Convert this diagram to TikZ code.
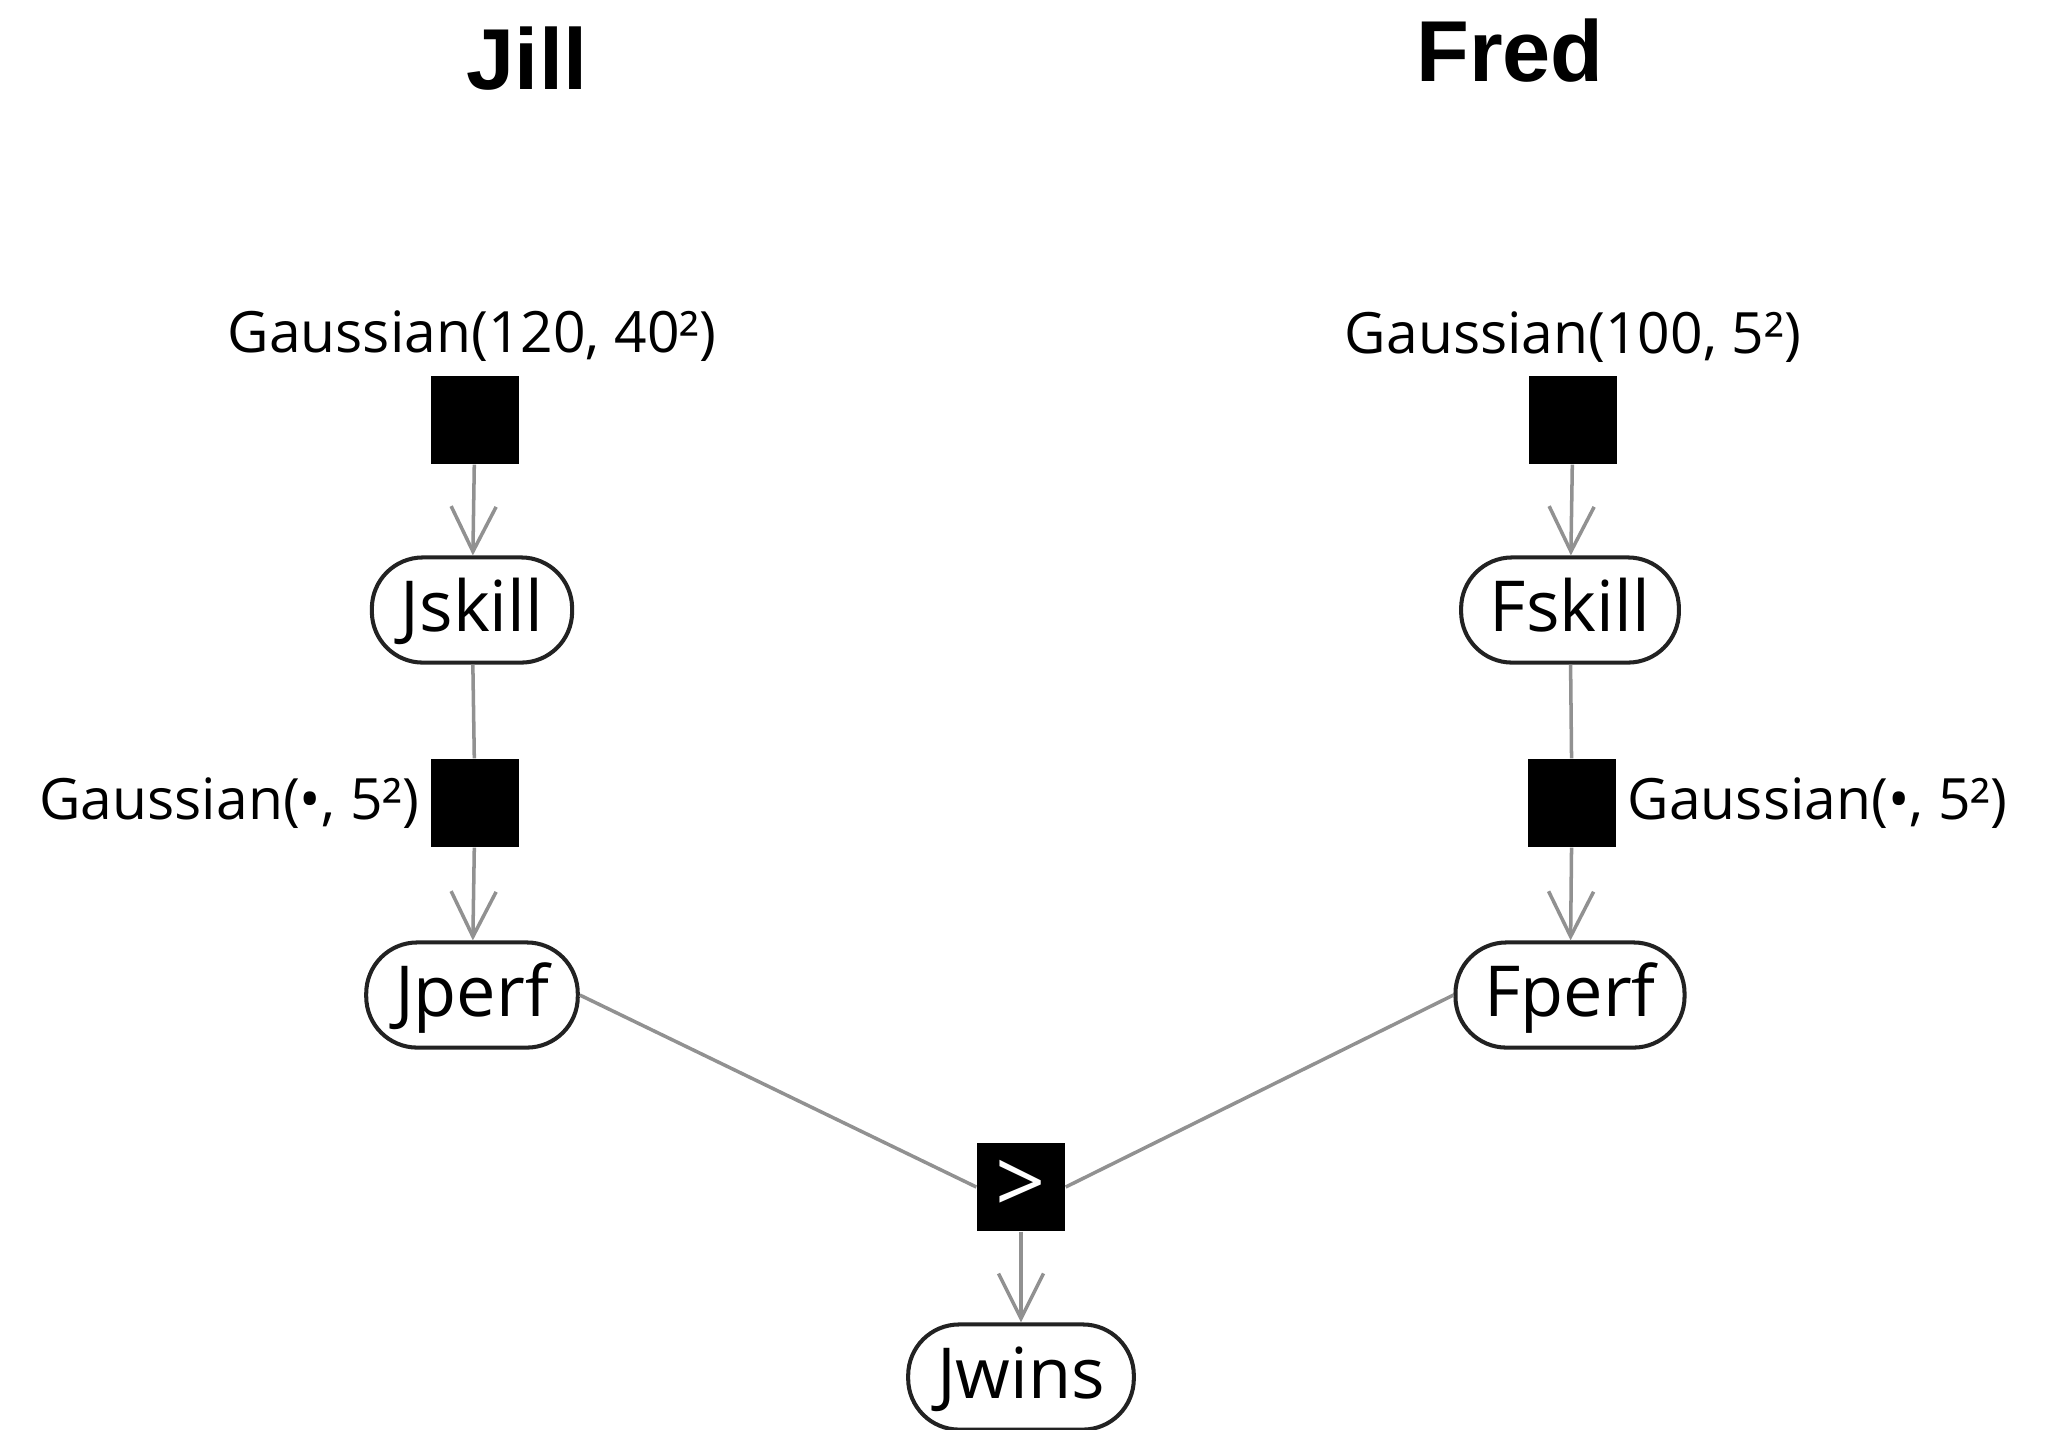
\documentclass[tikz,border=0pt]{standalone}
\usepackage{fontspec}
\setmainfont{Open Sans}
\newfontfamily\titlefont{Liberation Sans}
\usetikzlibrary{arrows.meta}

\definecolor{linegray}{RGB}{145,145,145}
\definecolor{bordergray}{RGB}{34,34,34}

\tikzset{
  factor/.style={fill=black, draw=none, minimum size=25pt, inner sep=0pt},
  var/.style={draw=bordergray, line width=1.15pt, rounded corners=14.5pt,
    minimum height=29.9pt, inner xsep=8.2pt, inner ysep=0pt,
    font=\fontsize{20}{24}\selectfont, text height=14.4pt, text depth=2pt},
  dist/.style={inner sep=0pt, font=\fontsize{16.2}{20}\selectfont},
  player/.style={inner sep=0pt, font=\titlefont\bfseries\fontsize{24.6}{28}\selectfont},
  link/.style={draw=linegray, line width=1pt},
  arr/.style={link, -{Straight Barb[length=12.8pt, width=12.8pt]}},
}

\begin{document}
\begin{tikzpicture}[x=0.01cm, y=-0.01cm]
  \path[use as bounding box] (0,0) rectangle (2049,1429);

  % player headings
  \node[player, anchor=base] (jill) at (527,89) {Jill};
  \node[player, anchor=base] (fred) at (1510,81) {Fred};

  % skill priors
  \node[factor] (jprior) at (475,420) {};
  \node[factor] (fprior) at (1573,420) {};
  \node[dist, anchor=base] (jpriorlbl) at (472,352) {Gaussian(120, 40²)};
  \node[dist, anchor=base] (fpriorlbl) at (1573,353) {Gaussian(100, 5²)};

  % skills
  \node[var] (jskill) at (472,610) {Jskill};
  \node[var] (fskill) at (1570,610) {Fskill};

  % performance noise factors
  \node[factor] (jnoise) at (475,803) {};
  \node[factor] (fnoise) at (1572,803) {};
  \node[dist, anchor=base east] (jnoiselbl) at (420,819) {Gaussian(•, 5²)};
  \node[dist, anchor=base west] (fnoiselbl) at (1627,819) {Gaussian(•, 5²)};

  % performances
  \node[var] (jperf) at (472,995) {Jperf};
  \node[var] (fperf) at (1570,995) {Fperf};

  % comparison factor and outcome
  \node[factor, text=white, font=\fontsize{25}{28}\selectfont] (gt) at (1021,1187) {>};
  \node[var] (jwins) at (1021,1377) {Jwins};

  % connectors
  \draw[arr] (jprior) -- (jskill);
  \draw[arr] (fprior) -- (fskill);
  \draw[link] (jskill) -- (jnoise);
  \draw[link] (fskill) -- (fnoise);
  \draw[arr] (jnoise) -- (jperf);
  \draw[arr] (fnoise) -- (fperf);
  \draw[link] (jperf.east) -- (gt.west);
  \draw[link] (fperf.west) -- (gt.east);
  \draw[arr] (gt) -- (jwins);
\end{tikzpicture}
\end{document}
